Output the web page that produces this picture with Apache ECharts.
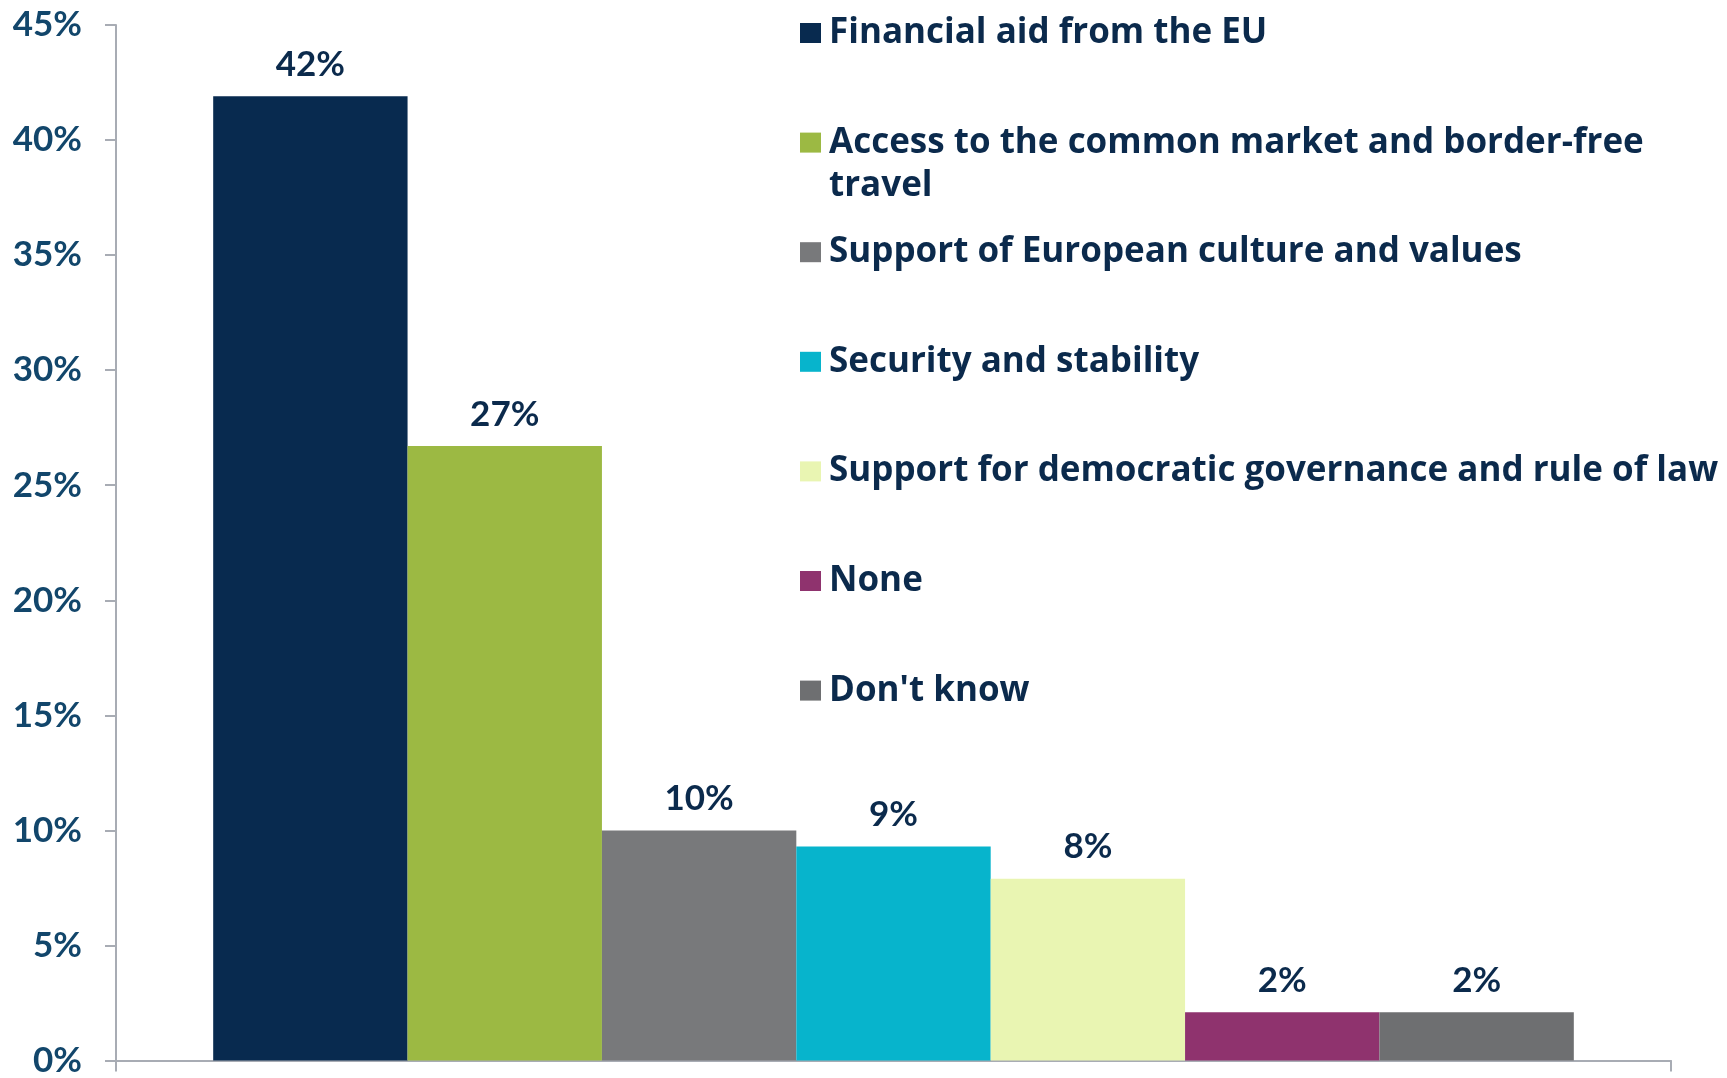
<!DOCTYPE html>
<html>
<head>
<meta charset="utf-8">
<script src="https://cdn.jsdelivr.net/npm/echarts@6/dist/echarts.min.js"></script>
<style>
html,body{margin:0;padding:0;background:#fff;}
#chart{width:1727px;height:1078px;}
</style>
</head>
<body>
<div id="chart"></div>
<script>
const seriesNames = [
  'Financial aid from the EU',
  'Access to the common market and border-free\ntravel',
  'Support of European culture and values',
  'Security and stability',
  'Support for democratic governance and rule of law',
  'None',
  "Don't know"
];
const seriesValues = [41.9, 26.7, 10.0, 9.3, 7.9, 2.1, 2.1];
const seriesColors = ['#082a4f', '#9cb943', '#78797b', '#07b4cc', '#e9f5b2', '#8f336e', '#6e6f71'];
const yTicks = { min: 0, max: 45, interval: 5 };
const category = [''];

const FONT = 'Lato';
const LEGEND_FONT = 'Open Sans';
const NAVY = '#0b2a4c';
const legendTop0 = 33, legendStep = 109.6, lineH = 43;

const chart = echarts.init(document.getElementById('chart'));

const legends = seriesNames.map((n, i) => {
  const multi = n.indexOf('\n') >= 0;
  const lines = multi ? 3 : 1;
  return {
    data: [n],
    orient: 'vertical',
    left: 800,
    top: legendTop0 + i * legendStep - (lines * lineH) / 2,
    padding: 0,
    itemWidth: 21,
    itemHeight: 20,
    icon: 'rect',
    selectedMode: false,
    formatter: name => (name.indexOf('\n') >= 0 ? '\n' + name : name),
    textStyle: { fontFamily: LEGEND_FONT, fontWeight: 'bold', fontSize: 35, color: NAVY, lineHeight: lineH, padding: [0, 0, 0, 3] }
  };
});

const option = {
  animation: false,
  backgroundColor: '#fff',
  grid: { left: 116, right: 56, top: 25, bottom: 14, containLabel: false },
  legend: legends,
  xAxis: {
    type: 'category',
    data: category,
    axisLine: { lineStyle: { color: '#a8acb4', width: 2 } },
    axisTick: { show: true, length: 11, lineStyle: { color: '#a8acb4', width: 2 } },
    axisLabel: { show: false },
    splitLine: { show: false }
  },
  yAxis: {
    type: 'value',
    min: yTicks.min, max: yTicks.max, interval: yTicks.interval,
    axisLine: { show: true, lineStyle: { color: '#a8acb4', width: 2 } },
    axisTick: { show: true, length: 11, lineStyle: { color: '#a8acb4', width: 2 } },
    splitLine: { show: false },
    axisLabel: {
      formatter: '{value}%', margin: 34, padding: [5, 0, 0, 0],
      fontFamily: FONT, fontWeight: 'bold', fontSize: 35, color: '#12466b'
    }
  },
  series: seriesNames.map((n, i) => ({
    name: n,
    type: 'bar',
    data: [seriesValues[i]],
    barGap: '0%',
    barCategoryGap: '12.5%',
    itemStyle: { color: seriesColors[i] },
    label: {
      show: true, position: 'top', distance: 14,
      formatter: p => Math.round(p.value) + '%',
      fontFamily: FONT, fontWeight: 'bold', fontSize: 35, color: NAVY
    }
  }))
};
chart.setOption(option);
</script>
</body>
</html>
